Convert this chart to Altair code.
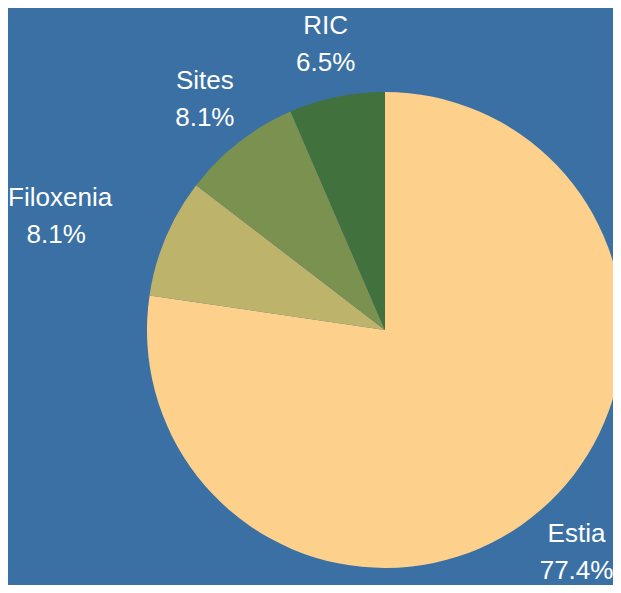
import altair as alt
import pandas as pd

categories = ["Estia", "Filoxenia", "Sites", "RIC"]
shares = [77.4, 8.1, 8.1, 6.5]
colors = ["#fdd18b", "#bdb36a", "#7b9150", "#41713d"]
order = [0, 1, 2, 3]

df = pd.DataFrame({"cat": categories, "value": shares, "ord": order})

BG = "#3b70a5"
CX, CY = 377, 322
R = 238
LR = 293
FONT = "Liberation Sans"
FS = 26

arcs = alt.Chart(df).mark_arc(radius=R, stroke=None).encode(
    theta=alt.Theta("value:Q", stack=True),
    order=alt.Order("ord:Q"),
    color=alt.Color("cat:N", scale=alt.Scale(domain=categories, range=colors), legend=None),
    x=alt.value(CX),
    y=alt.value(CY),
)

def labels(field, dy, dx, keep):
    return alt.Chart(df).transform_calculate(
        pct="format(datum.value, '.1f') + '%'"
    ).transform_window(
        cum="sum(value)", sort=[alt.SortField("ord")], frame=[None, 0]
    ).transform_joinaggregate(total="sum(value)").transform_calculate(
        mid="(datum.cum - datum.value / 2) / datum.total * 2 * PI"
    ).transform_filter(keep).mark_text(
        radius=LR, font=FONT, fontSize=FS, color="white",
        align="center", baseline="alphabetic", dy=dy, dx=dx
    ).encode(
        theta=alt.Theta("mid:Q", scale=None),
        text=alt.Text(f"{field}:N"),
        x=alt.value(CX),
        y=alt.value(CY),
    )

others = "datum.cat != 'Filoxenia'"
filo = "datum.cat == 'Filoxenia'"

chart = alt.layer(
    arcs,
    labels("cat", -9.5, 0, others),
    labels("pct", 27.5, 0, others),
    labels("cat", -9.5, -55, filo),
    labels("pct", 27.5, -59, filo),
).properties(
    width=605, height=577, padding=0, autosize=alt.AutoSizeParams(type="none"),
    background=BG,
).configure_view(stroke=None)

chart.save("out.html", embed_options={"renderer": "svg", "actions": False})
